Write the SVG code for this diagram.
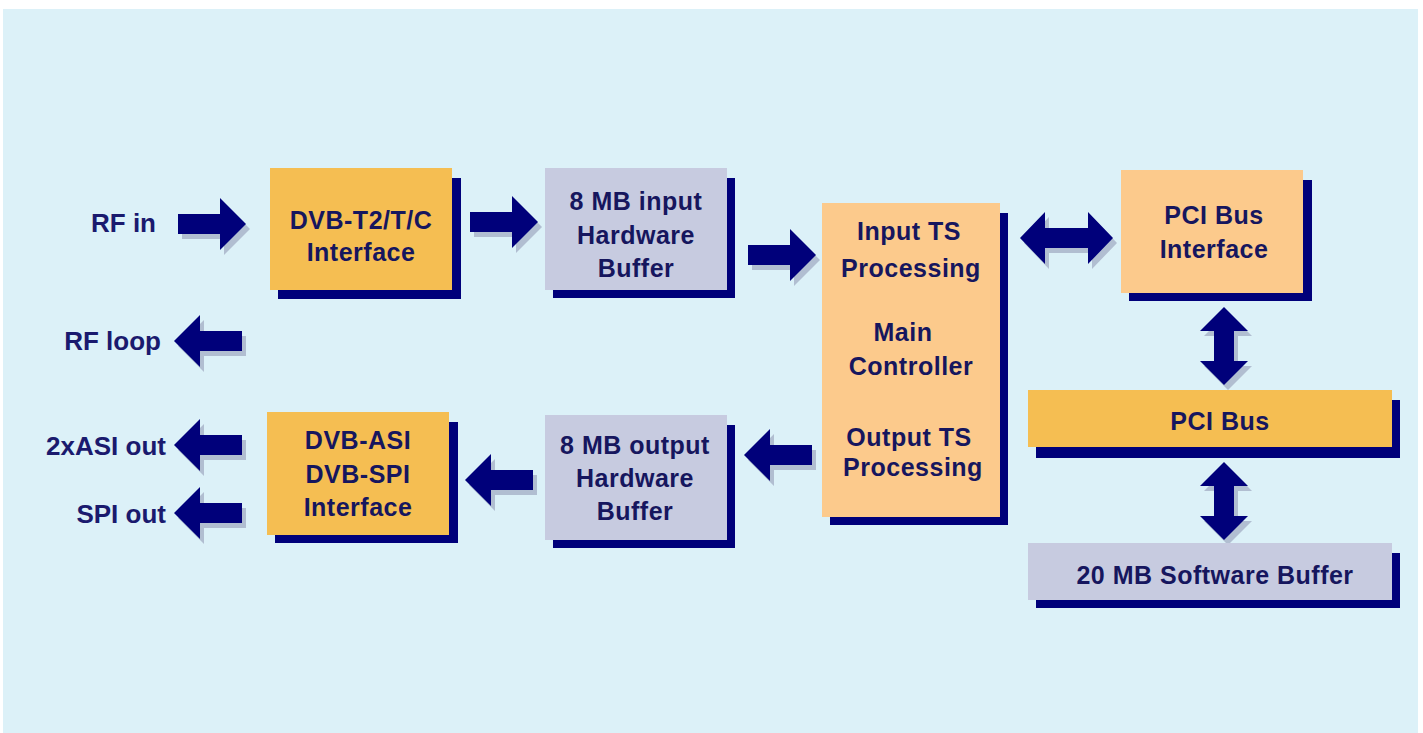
<svg xmlns="http://www.w3.org/2000/svg" xmlns:xlink="http://www.w3.org/1999/xlink" width="1423" height="733" viewBox="0 0 1423 733">
<style>
.sh{fill:#00007a}
.or{fill:#f5be52}
.pe{fill:#fcca8c}
.gr{fill:#c7cbe0}
.t{font-family:"Liberation Sans",Arial,sans-serif;font-weight:bold;font-size:25px;fill:#16165e;text-anchor:middle;letter-spacing:0.5px}
.l{font-family:"Liberation Sans",Arial,sans-serif;font-weight:bold;font-size:26px;fill:#1a1a6e;text-anchor:end}
.ar{fill:#00007a}
.as{fill:#8e94b0;opacity:0.55}
</style>
<defs>
<path id="ra" d="M0,-10 H42 V-26 L68,0 L42,26 V10 H0 Z"/>
<path id="dh" d="M0,0 L25,-26 V-10 H68 V-26 L93,0 L68,26 V10 H25 V26 Z"/>
<path id="dv" d="M0,0 L-24,24 H-10 V54 H-24 L0,78 L24,54 H10 V24 H24 Z"/>
</defs>
<rect x="0" y="0" width="1423" height="733" fill="#ffffff"/>
<rect x="3" y="9" width="1415" height="724" fill="#dcf1f8"/>

<g id="connectors">
<use xlink:href="#ra" class="as" transform="translate(182,229)"/>
<use xlink:href="#ra" class="ar" transform="translate(178,224)"/>
<use xlink:href="#ra" class="as" transform="translate(474,227)"/>
<use xlink:href="#ra" class="ar" transform="translate(470,222)"/>
<use xlink:href="#ra" class="as" transform="translate(752,260)"/>
<use xlink:href="#ra" class="ar" transform="translate(748,255)"/>
<use xlink:href="#ra" class="as" transform="translate(246,346) scale(-1,1)"/>
<use xlink:href="#ra" class="ar" transform="translate(242,341) scale(-1,1)"/>
<use xlink:href="#ra" class="as" transform="translate(246,450) scale(-1,1)"/>
<use xlink:href="#ra" class="ar" transform="translate(242,445) scale(-1,1)"/>
<use xlink:href="#ra" class="as" transform="translate(246,518) scale(-1,1)"/>
<use xlink:href="#ra" class="ar" transform="translate(242,513) scale(-1,1)"/>
<use xlink:href="#ra" class="as" transform="translate(537,485) scale(-1,1)"/>
<use xlink:href="#ra" class="ar" transform="translate(533,480) scale(-1,1)"/>
<use xlink:href="#ra" class="as" transform="translate(816,460) scale(-1,1)"/>
<use xlink:href="#ra" class="ar" transform="translate(812,455) scale(-1,1)"/>
<use xlink:href="#dh" class="as" transform="translate(1024,243)"/>
<use xlink:href="#dh" class="ar" transform="translate(1020,238)"/>
<use xlink:href="#dv" class="as" transform="translate(1228,312)"/>
<use xlink:href="#dv" class="ar" transform="translate(1224,307)"/>
<use xlink:href="#dv" class="as" transform="translate(1228,467)"/>
<use xlink:href="#dv" class="ar" transform="translate(1224,462)"/>
</g>

<g id="lbl-rfin"><text class="l" x="156" y="232">RF in</text></g>
<g id="lbl-rfloop"><text class="l" x="161" y="350">RF loop</text></g>
<g id="lbl-asi"><text class="l" x="166" y="455">2xASI out</text></g>
<g id="lbl-spi"><text class="l" x="166" y="523">SPI out</text></g>

<g id="dvbt2">
<rect class="sh" x="278" y="178" width="183" height="121"/>
<rect class="or" x="270" y="168" width="182" height="122"/>
<text class="t" x="361" y="229">DVB-T2/T/C</text>
<text class="t" x="361" y="261">Interface</text>
</g>

<g id="inbuf">
<rect class="sh" x="553" y="178" width="182" height="120"/>
<rect class="gr" x="545" y="168" width="182" height="122"/>
<text class="t" x="636" y="210">8 MB input</text>
<text class="t" x="636" y="244">Hardware</text>
<text class="t" x="636" y="277">Buffer</text>
</g>

<g id="main">
<rect class="sh" x="830" y="213" width="178" height="312"/>
<rect class="pe" x="822" y="203" width="178" height="314"/>
<text class="t" x="909" y="240">Input TS</text>
<text class="t" x="911" y="277">Processing</text>
<text class="t" x="903" y="341">Main</text>
<text class="t" x="911" y="375">Controller</text>
<text class="t" x="909" y="446">Output TS</text>
<text class="t" x="913" y="476">Processing</text>
</g>

<g id="pciif">
<rect class="sh" x="1129" y="180" width="183" height="121"/>
<rect class="pe" x="1121" y="170" width="182" height="123"/>
<text class="t" x="1214" y="224">PCI Bus</text>
<text class="t" x="1214" y="258">Interface</text>
</g>

<g id="pcibus">
<rect class="sh" x="1036" y="400" width="364" height="58"/>
<rect class="or" x="1028" y="390" width="364" height="57"/>
<text class="t" x="1220" y="430">PCI Bus</text>
</g>

<g id="swbuf">
<rect class="sh" x="1036" y="553" width="364" height="55"/>
<rect class="gr" x="1028" y="543" width="364" height="57"/>
<text class="t" x="1215" y="584">20 MB Software Buffer</text>
</g>

<g id="asi">
<rect class="sh" x="275" y="422" width="183" height="121"/>
<rect class="or" x="267" y="412" width="182" height="123"/>
<text class="t" x="358" y="449">DVB-ASI</text>
<text class="t" x="358" y="483">DVB-SPI</text>
<text class="t" x="358" y="516">Interface</text>
</g>

<g id="outbuf">
<rect class="sh" x="553" y="425" width="182" height="123"/>
<rect class="gr" x="545" y="415" width="182" height="125"/>
<text class="t" x="635" y="454">8 MB output</text>
<text class="t" x="635" y="487">Hardware</text>
<text class="t" x="635" y="520">Buffer</text>
</g>
</svg>
